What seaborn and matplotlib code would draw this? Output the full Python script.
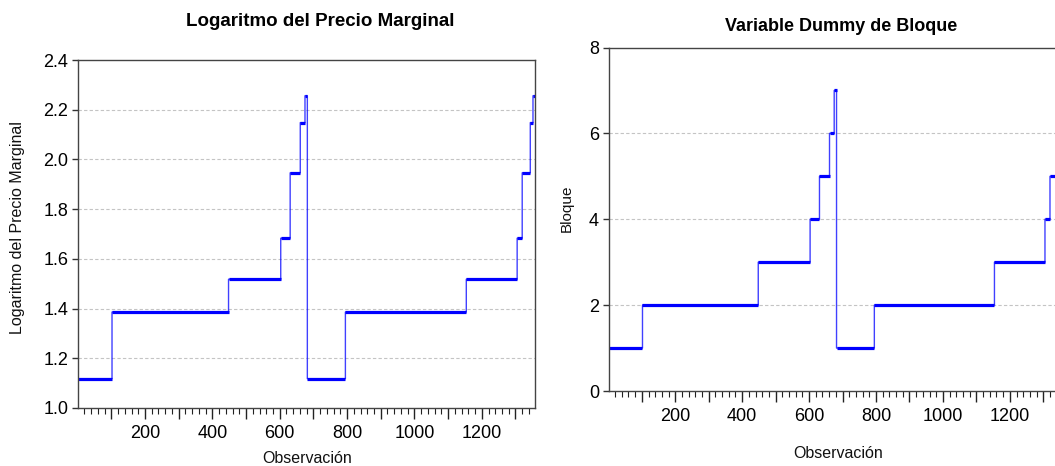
import numpy as np
import pandas as pd
import matplotlib
matplotlib.use("Agg")
import matplotlib.pyplot as plt
import seaborn as sns
from matplotlib.ticker import FuncFormatter, MultipleLocator

# ---- data ----
block_start = [1, 102, 448, 603, 631, 661, 675, 682, 795, 1154, 1305, 1320, 1344, 1352]
block_end   = [102, 448, 603, 631, 661, 675, 682, 795, 1154, 1305, 1320, 1344, 1352, 1358]
log_precio  = [1.118, 1.386, 1.518, 1.683, 1.946, 2.148, 2.256,
               1.118, 1.386, 1.518, 1.683, 1.946, 2.148, 2.256]
bloque      = [1, 2, 3, 4, 5, 6, 7, 1, 2, 3, 4, 5, 6, 7]

titles = ["Logaritmo del Precio Marginal", "Variable Dummy de Bloque"]
ylabels = ["Logaritmo del Precio Marginal", "Bloque"]
xlabel = "Observación"
y_ticks_left = [1.0, 1.2, 1.4, 1.6, 1.8, 2.0, 2.2, 2.4]
y_ticks_right = [0, 2, 4, 6, 8]

# per-observation series
lengths = np.array(block_end) - np.array(block_start)
obs = np.arange(block_start[0], block_end[-1] + 1)
lp = np.append(np.repeat(log_precio, lengths), log_precio[-1])
bl = np.append(np.repeat(bloque, lengths), bloque[-1])
df = pd.DataFrame({"obs": obs, "lp": lp, "bl": bl})

sns.set_theme(style="white")
plt.rcParams["font.family"] = ["Liberation Sans", "DejaVu Sans"]

fig = plt.figure(figsize=(10.55, 4.66), dpi=100)
ax1 = fig.add_axes([78 / 1055, 1 - 408 / 466, (535 - 78) / 1055, (408 - 60) / 466])
ax2 = fig.add_axes([608.7 / 1055, 1 - 391 / 466, 454 / 1055, (391 - 47.5) / 466])

BLUE = "#0000FF"
for ax, col, levels, yt, ylim in [(ax1, "lp", log_precio, y_ticks_left, (1.0, 2.4)),
                                  (ax2, "bl", bloque, y_ticks_right, (0, 8))]:
    sns.lineplot(data=df, x="obs", y=col, ax=ax, color=BLUE, lw=1.0, alpha=0.75,
                 drawstyle="steps-post", estimator=None, legend=False)
    ax.hlines(levels, block_start, block_end, color=BLUE, lw=2.3)
    ax.set_xlim(1, 1358)
    ax.set_ylim(*ylim)
    ax.set_yticks(yt)
    for y in yt[1:-1]:
        ax.axhline(y, color="#c4c4c4", lw=0.8, ls=(0, (3, 2)), zorder=0)
    ax.xaxis.set_major_locator(MultipleLocator(100))
    ax.xaxis.set_minor_locator(MultipleLocator(20))
    ax.xaxis.set_major_formatter(FuncFormatter(lambda v, p: f"{int(v)}" if int(v) % 200 == 0 and v > 0 else ""))
    ax.tick_params(axis="x", which="major", length=8, width=1, color="#222222", direction="out",
                   bottom=True, labelsize=13, pad=4, labelcolor="#000000")
    ax.tick_params(axis="x", which="minor", length=4.5, width=0.8, color="#222222", direction="out", bottom=True)
    ax.tick_params(axis="y", which="major", length=4, width=1, color="#333333", direction="out",
                   left=True, labelsize=13, pad=3, labelcolor="#000000")
    ax.set_xlabel("")
    ax.set_ylabel("")
    for s in ax.spines.values():
        s.set_color("#444444")
        s.set_linewidth(1.0)

ax1.yaxis.set_major_formatter(FuncFormatter(lambda v, p: f"{v:.1f}"))

fig.text(0.3033, 0.953, titles[0], ha="center", va="center", fontsize=13.5, fontweight="bold", color="#000000")
fig.text(0.797, 0.944, titles[1], ha="center", va="center", fontsize=13, fontweight="bold", color="#000000")
fig.text(0.291, 0.017, xlabel, ha="center", va="center", fontsize=11.5, color="#111111")
fig.text(0.794, 0.027, xlabel, ha="center", va="center", fontsize=11.5, color="#111111")
fig.text(0.017, 0.511, ylabels[0], ha="center", va="center", rotation=90, fontsize=11.5, color="#111111")
fig.text(0.537, 0.554, ylabels[1], ha="center", va="center", rotation=90, fontsize=11, color="#111111")

fig.savefig("out.png", dpi=100)
